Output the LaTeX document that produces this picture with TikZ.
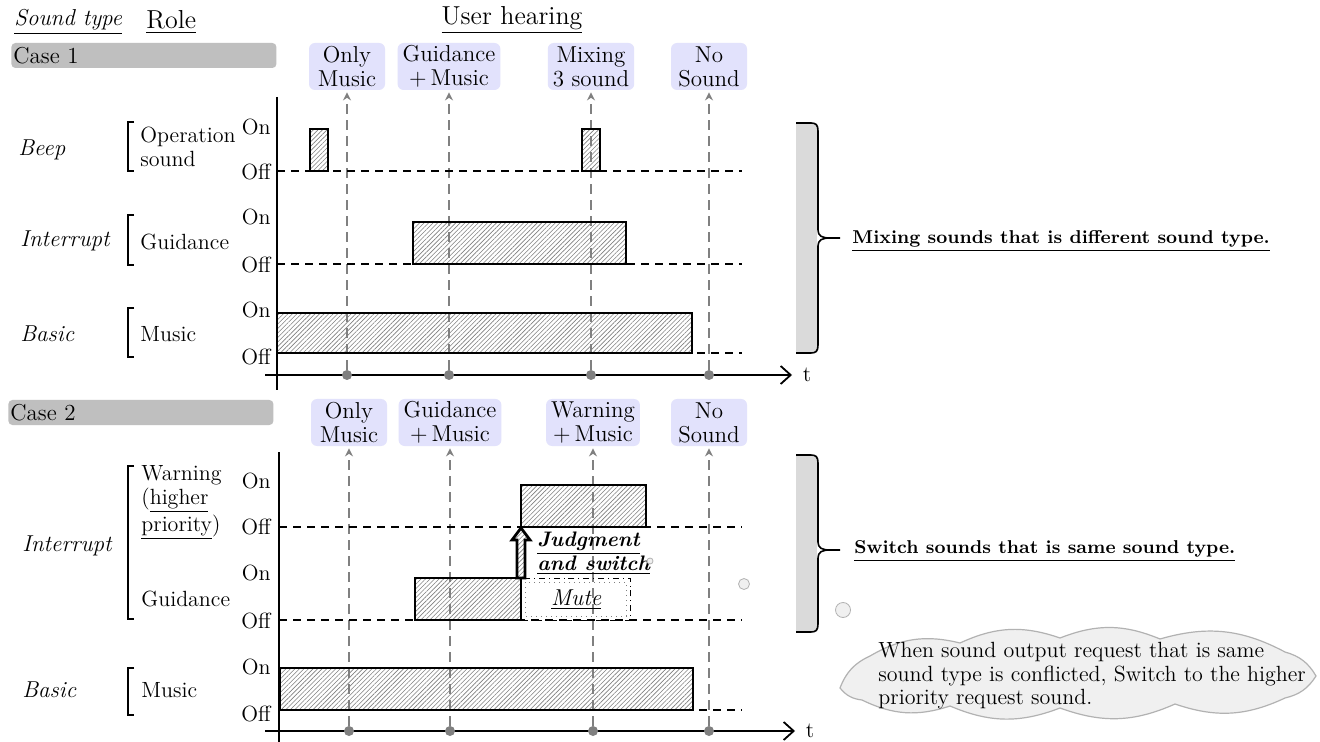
\documentclass[tikz,border=0pt]{standalone}
\usepackage{tikz}
\usetikzlibrary{positioning, arrows.meta, patterns.meta}
\definecolor{hearbg}{RGB}{226,226,252}
\definecolor{casegray}{RGB}{191,191,191}
\definecolor{bracegray}{RGB}{218,218,218}
\definecolor{cloudgray}{RGB}{240,240,240}
\tikzset{x=0.5pt, y=-0.5pt, every node/.style={font=\fontsize{11}{12}\selectfont},
  hearing/.style={fill=hearbg, rounded corners=3pt, align=center, inner xsep=2.5pt, inner ysep=1pt, minimum width=38pt, minimum height=23.5pt, font=\fontsize{11.5}{12}\selectfont},
  casebar/.style={fill=casegray, rounded corners=2pt, anchor=west, text width=130.5pt, inner sep=1pt, minimum height=12.5pt, align=left, font=\fontsize{11.5}{12}\selectfont},
  signal/.style={draw, line width=0.8pt, pattern={Lines[angle=45,distance=1.6pt,line width=0.3pt]}, pattern color=gray},
  offline/.style={dash pattern=on 4pt off 3pt, line width=0.7pt},
  probe/.style={draw=gray, line width=0.8pt, dash pattern=on 5pt off 3pt, shorten >=1pt, -{Stealth[length=4pt,width=4pt]}},
  tdot/.style={circle, fill=gray, inner sep=0pt, minimum size=5pt},
  axis/.style={line width=0.9pt},
  taxis/.style={line width=0.9pt, -{Straight Barb[length=5pt,width=9pt]}},
  onoff/.style={anchor=east, inner sep=1pt},
  stype/.style={anchor=west, inner sep=1pt, font=\fontsize{11.5}{12.5}\selectfont\itshape},
  role/.style={anchor=west, align=left, inner sep=1pt, font=\fontsize{11}{11.8}\selectfont},
  bracket/.style={line width=0.6pt},
  note/.style={anchor=west, inner sep=1pt, font=\fontsize{9.3}{11}\selectfont\bfseries},
  bubble/.style={circle, draw=gray!60, fill=cloudgray, inner sep=0pt},
  puff/.style={bend left=22}}

\begin{document}
\begin{tikzpicture}
\useasboundingbox (0,0) rectangle (1320,742);
\fill[white] (0,0) rectangle (1320,742);

\node[anchor=west, inner sep=1pt, font=\fontsize{11.5}{12}\selectfont\itshape] (typehead) at (12,22) {\underline{Sound type}};
\node[anchor=west, inner sep=1pt, font=\fontsize{13}{14}\selectfont] (rolehead) at (144,22) {\underline{Role}};
\node[font=\fontsize{13}{14}\selectfont] (userhead) at (512,20) {\underline{User hearing}};

% Case 1
\node[casebar] (case1) at (11,55.5) {Case 1};
\draw[axis] (277,97) -- (277,390);
\draw[taxis] (265,375) -- (792,375) node[right=4pt, inner sep=1pt] (t1) {t};
\foreach \x/\txt/\nm in {347/{Only\\Music}/a, 449/{Guidance\\+\,Music}/b, 591/{Mixing\\3 sound}/c, 709/{No\\Sound}/d}{
  \node[hearing] (h1\nm) at (\x,66.5) {\txt};
  \node[tdot] (t1\nm) at (\x,375) {};
  \draw[probe] (t1\nm) -- (h1\nm);
}
\draw[offline] (277,171) -- (742,171);
\draw[offline] (277,264) -- (742,264);
\draw[offline] (277,353) -- (742,353);
\draw[signal] (310,129) rectangle (328,171);
\draw[signal] (582,129) rectangle (600,171);
\draw[signal] (413,222) rectangle (626,264);
\draw[signal] (277,313) rectangle (692,353);

\node[stype] (beep) at (16,150) {Beep};
\node[stype] (intr1) at (18,241) {Interrupt};
\node[stype] (basic1) at (18,334) {Basic};
\draw[bracket] (134,122) -- (128,122) -- (128,171) -- (134,171);
\draw[bracket] (134,215) -- (128,215) -- (128,265) -- (134,265);
\draw[bracket] (134,308) -- (128,308) -- (128,357) -- (134,357);
\node[role] (opsound) at (138,147) {Operation\\sound};
\node[role] (guid1) at (138,242) {Guidance};
\node[role] (music1) at (138,334) {Music};
\node[onoff] (on1a) at (273,127) {On};
\node[onoff] (off1a) at (273,172) {Off};
\node[onoff] (on1b) at (273,217) {On};
\node[onoff] (off1b) at (273,265) {Off};
\node[onoff] (on1c) at (273,310) {On};
\node[onoff] (off1c) at (273,357) {Off};

\fill[bracegray] (796,123) rectangle (817,353);
\draw[line width=0.8pt] (796,123) -- (811,123) .. controls (816,123) and (818,125) .. (818,131) -- (818,230) .. controls (818,236) and (822,238) .. (830,238) -- (840,238);
\draw[line width=0.8pt] (830,238) .. controls (822,238) and (818,240) .. (818,246) -- (818,345) .. controls (818,351) and (816,353) .. (811,353) -- (796,353);
\node[note] (mixnote) at (850,241) {\underline{Mixing sounds that is different sound type.}};

% Case 2
\node[casebar] (case2) at (8,412.5) {Case 2};
\draw[axis] (279,452) -- (279,742);
\draw[taxis] (265,731) -- (795,731) node[right=4pt, inner sep=1pt] (t2) {t};
\foreach \x/\txt/\nm in {349/{Only\\Music}/a, 450/{Guidance\\+\,Music}/b, 593/{Warning\\+\,Music}/c, 709/{No\\Sound}/d}{
  \node[hearing] (h2\nm) at (\x,422.5) {\txt};
  \node[tdot] (t2\nm) at (\x,731) {};
  \draw[probe] (t2\nm) -- (h2\nm);
}
\draw[offline] (279,527) -- (742,527);
\draw[offline] (279,620) -- (742,620);
\draw[offline] (279,710) -- (742,710);
\draw[signal] (521,485) rectangle (646,527);
\draw[signal] (415,578) rectangle (521,620);
\draw[signal] (280,668) rectangle (693,710);

\node[draw, dash dot, line width=0.6pt, minimum width=54.5pt, minimum height=21pt, anchor=north west, inner sep=0pt] (mute) at (521,578) {};
\draw[gray, dotted, line width=0.5pt] (525,582) rectangle (626,616);
\node[font=\fontsize{11.5}{12}\selectfont\itshape] (mutetxt) at (mute) {\underline{Mute}};
\draw[line width=1.4pt, pattern={Lines[angle=45,distance=1.6pt,line width=0.3pt]}, pattern color=gray]
  (517,578) -- (517,540) -- (512,540) -- (521,528) -- (530,540) -- (525,540) -- (525,578) -- cycle;
\node[anchor=west, align=left, inner sep=1pt, font=\fontsize{10.5}{12.2}\selectfont\bfseries\itshape] (judge) at (535,553) {\underline{Judgment}\\\underline{and switch}};

\node[stype] (intr2) at (20,546) {Interrupt};
\node[stype] (basic2) at (20,690) {Basic};
\draw[bracket] (134,466) -- (128,466) -- (128,619) -- (134,619);
\draw[bracket] (134,668) -- (128,668) -- (128,715) -- (134,715);
\node[role] (warn) at (139,503) {Warning\\(\underline{higher}\\\underline{priority})};
\node[role] (guid2) at (139,599) {Guidance};
\node[role] (music2) at (139,690) {Music};
\node[onoff] (on2a) at (273,481) {On};
\node[onoff] (off2a) at (273,527) {Off};
\node[onoff] (on2b) at (273,573) {On};
\node[onoff] (off2b) at (273,621) {Off};
\node[onoff] (on2c) at (273,667) {On};
\node[onoff] (off2c) at (273,714) {Off};

\fill[bracegray] (796,455) rectangle (817,632);
\draw[line width=0.8pt] (796,455) -- (811,455) .. controls (816,455) and (818,457) .. (818,463) -- (818,542) .. controls (818,548) and (822,550) .. (830,550) -- (840,550);
\draw[line width=0.8pt] (830,550) .. controls (822,550) and (818,552) .. (818,558) -- (818,624) .. controls (818,630) and (816,632) .. (811,632) -- (796,632);
\node[note] (switchnote) at (852,551) {\underline{Switch sounds that is same sound type.}};

% thought cloud
\node[bubble, minimum size=3pt] (bub1) at (650,561) {};
\node[bubble, minimum size=5.5pt] (bub2) at (744,584) {};
\node[bubble, minimum size=7.5pt] (bub3) at (843,610) {};
\filldraw[draw=gray!60, fill=cloudgray, line width=0.6pt]
  (840,688) to[puff] (870,656) to[puff] (960,643) to[puff] (1060,638) to[puff] (1160,639)
  to[puff] (1285,652) to[puff] (1316,676) to[puff] (1285,698) to[puff] (1175,704)
  to[puff] (1060,708) to[puff] (950,706) to[puff] (862,700) to[puff] cycle;
\node[anchor=west, align=left, inner sep=0pt, font=\fontsize{11}{11.8}\selectfont] (cloudtxt) at (878,676)
  {When sound output request that is same\\sound type is conflicted, Switch to the higher\\priority request sound.};
\end{tikzpicture}
\end{document}
